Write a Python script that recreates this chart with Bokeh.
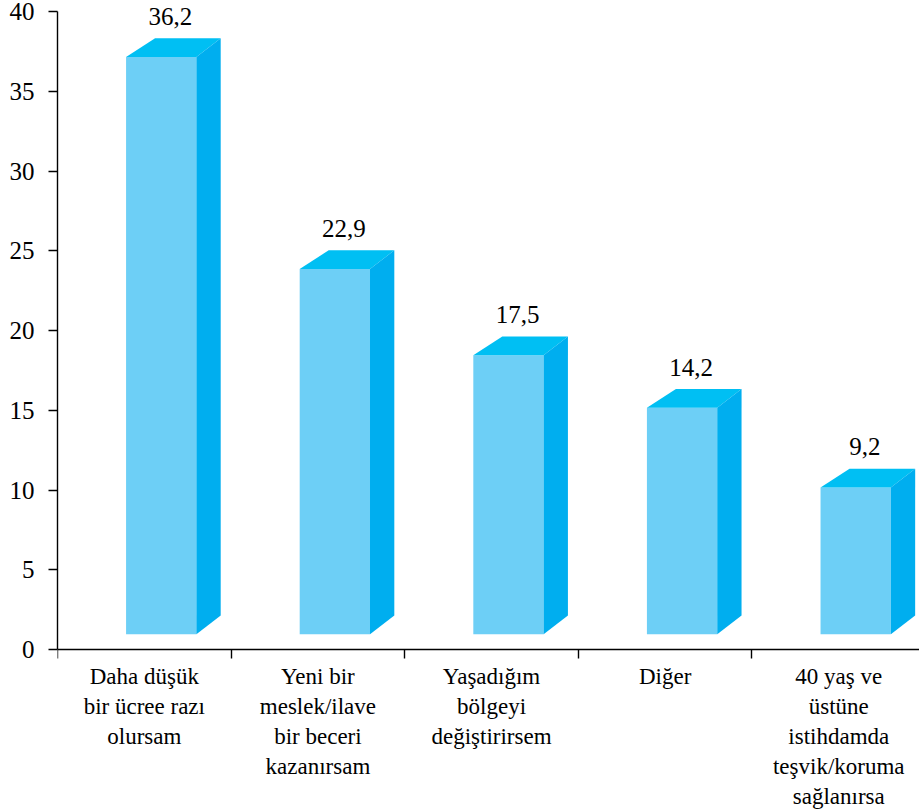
from bokeh.plotting import figure
from bokeh.models import Range1d, FixedTicker, ColumnDataSource, LabelSet
from bokeh.core.properties import value
from bokeh.embed import file_html
from bokeh.resources import INLINE

# Survey answers and their shares (%)
categories = [
    "Daha düşük\nbir ücree razı\nolursam",
    "Yeni bir\nmeslek/ilave\nbir beceri\nkazanırsam",
    "Yaşadığım\nbölgeyi\ndeğiştirirsem",
    "Diğer",
    "40 yaş ve\nüstüne\nistihdamda\nteşvik/koruma\nsağlanırsa",
]
values = [36.2, 22.9, 17.5, 14.2, 9.2]
value_labels = ["36,2", "22,9", "17,5", "14,2", "9,2"]
y_ticks = [0, 5, 10, 15, 20, 25, 30, 35, 40]

FRONT = "#6DCFF6"
TOP = "#00BFF3"
SIDE = "#00AEEF"
FONT = "Liberation Serif"

# pseudo-3D box geometry (data units)
x0, x1 = 0.395, 0.80      # front face within each category slot
base = 0.95               # front face lifted off the axis
dx_left, dx_right = 0.167, 0.14
dy = 1.18

n = len(values)
px_per_unit = 638 / 40

# the frame fills the whole page so that labels are never clipped;
# the axes are pinned at x = 0 and y = 0 and bounded to 0..40
p = figure(width=919, height=811, output_backend="svg", toolbar_location=None,
           x_range=Range1d(0, 4.965),
           y_range=Range1d(-162 / px_per_unit, 40 + 11 / px_per_unit),
           min_border_left=57, min_border_top=0, min_border_bottom=0,
           min_border_right=0)
p.outline_line_color = None
p.grid.visible = False
p.background_fill_color = "white"
p.border_fill_color = "white"

lefts = [i + x0 for i in range(n)]
rights = [i + x1 for i in range(n)]
tops = [v + base for v in values]

p.quad(left=lefts, right=rights, bottom=[base] * n, top=tops,
       fill_color=FRONT, line_color=None)

top_xs = [[l, r, r + dx_right, l + dx_left] for l, r in zip(lefts, rights)]
top_ys = [[t, t, t + dy, t + dy] for t in tops]
p.patches(top_xs, top_ys, fill_color=TOP, line_color=None)

side_xs = [[r, r + dx_right, r + dx_right, r] for r in rights]
side_ys = [[base, base + dy, t + dy, t] for t in tops]
p.patches(side_xs, side_ys, fill_color=SIDE, line_color=None)

# value labels above each bar
vsrc = ColumnDataSource(dict(x=[i + 0.65 for i in range(n)],
                             y=[v + 3.5 for v in values],
                             t=value_labels))
p.add_layout(LabelSet(x="x", y="y", text="t", source=vsrc,
                      text_font=value(FONT), text_font_size=value("25px"),
                      text_color="black",
                      text_align="center", text_baseline="middle"))

# y axis
ya = p.yaxis[0]
ya.ticker = FixedTicker(ticks=y_ticks)
ya.bounds = (0, 40)
ya.major_tick_in = 0
ya.major_tick_out = 9
ya.minor_tick_out = 0
ya.minor_tick_in = 0
ya.axis_line_color = "black"
ya.axis_line_width = 1.4
ya.major_tick_line_color = "black"
ya.major_tick_line_width = 1.4
ya.major_label_text_font = FONT
ya.major_label_text_font_size = "25px"
ya.major_label_text_color = "black"
ya.major_label_standoff = 14

# x axis pinned at y = 0: slot boundaries as ticks, category names centred
centres = [i + 0.5 for i in range(n)]
xa = p.xaxis[0]
xa.fixed_location = 0
xa.ticker = FixedTicker(ticks=centres, minor_ticks=list(range(n + 1)))
xa.major_label_overrides = {c: lab for c, lab in zip(centres, categories)}
xa.major_tick_in = 0
xa.major_tick_out = 0
xa.minor_tick_in = 0
xa.minor_tick_out = 9
xa.axis_line_color = "black"
xa.axis_line_width = 1.4
xa.minor_tick_line_color = "black"
xa.minor_tick_line_width = 1.4
xa.major_label_text_font = FONT
xa.major_label_text_font_size = "23px"
xa.major_label_text_color = "black"
xa.major_label_standoff = 5

open("out.html", "w").write(file_html(p, INLINE))
